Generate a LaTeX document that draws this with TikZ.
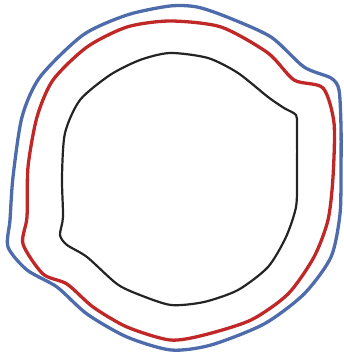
\documentclass[tikz,border=0pt]{standalone}
\usepackage{tikz}
\definecolor{vienxanh}{RGB}{78,108,172}
\definecolor{viendo}{RGB}{192,40,40}
\definecolor{vienden}{RGB}{36,36,36}
\begin{document}
\begin{tikzpicture}[x=1pt, y=-1pt, line join=round,
		duongxanh/.style={draw=vienxanh, line width=3.3pt},
		duongdo/.style={draw=viendo, line width=3.3pt},
		duongden/.style={draw=vienden, line width=2.2pt}]
	
	% Khung hình
	\useasboundingbox (0,0) rectangle (343,355);
	
	% Vẽ đường viền ngoài (màu xanh)
	\draw[duongxanh] plot[smooth cycle, tension=0.45] coordinates {
		(170,6) (197,7) (227,17) (271,37) (304,67) (331,78) (339,90)
		(341,127) (341,167) (340,214) (331,257) (304,294) (264,324)
		(211,345) (171,350) (127,337) (87,314) (57,287) (27,270) (8,247)
		(10,220) (13,177) (22,117) (40,77) (83,35) (127,15)};
	
	% Vẽ đường viền giữa (màu đỏ)
	\draw[duongdo] plot[smooth cycle, tension=0.45] coordinates {
		(170,21) (221,27) (268,53) (294,80) (323,88) (334,123) (333,177)
		(328,220) (314,257) (288,294) (251,320) (204,335) (170,340)
		(127,327) (93,307) (67,284) (43,274) (23,244) (27,217) (28,167)
		(37,117) (53,80) (87,47) (127,27)};
	
	% Vẽ đường viền trong (màu đen)
	\draw[duongden] plot[smooth cycle, tension=0.45] coordinates {
		(170,53) (208,58) (238,73) (268,97) (284,108) (296,115) (297,127)
		(297,177) (296,207) (286,237) (268,267) (238,290) (204,302)
		(171,305) (140,295) (117,284) (87,257) (67,245) (60,235) (63,217)
		(62,177) (65,133) (80,100) (110,75) (140,60)};
	
\end{tikzpicture}
\end{document}
